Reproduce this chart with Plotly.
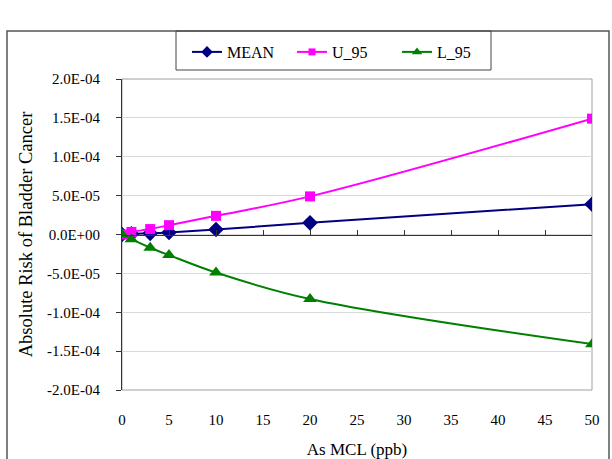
import plotly.graph_objects as go

x_mcl = [0, 1, 3, 5, 10, 20, 50]
mean_vals = [0, 0.8e-6, 1.5e-6, 2.6e-6, 6.5e-6, 1.5e-5, 3.9e-5]
u95_vals = [0, 3.3e-6, 7.0e-6, 1.2e-5, 2.4e-5, 4.9e-5, 1.49e-4]
l95_vals = [0, -6.0e-6, -1.7e-5, -2.65e-5, -4.9e-5, -8.3e-5, -1.41e-4]
y_ticks = [-2e-4, -1.5e-4, -1e-4, -5e-5, 0, 5e-5, 1e-4, 1.5e-4, 2e-4]
x_ticks = [0, 5, 10, 15, 20, 25, 30, 35, 40, 45, 50]

series = [
    ("MEAN", mean_vals, "#000080", "diamond", 12, 9),
    ("U_95", u95_vals, "#FF00FF", "square", 10, 7),
    ("L_95", l95_vals, "#008000", "triangle-up", 12, 9),
]

FONT = "Liberation Serif"

# pixel -> paper helpers (plot area: x 122..592, y 79..390)
def px(v):
    return (v - 122) / 470.0

def py(v):
    return (390 - v) / 311.0

fig = go.Figure()
for name, vals, color, sym, msize, lsize in series:
    fig.add_trace(go.Scatter(x=x_mcl, y=vals, name=name, mode="lines+markers",
                             legendgroup=name, showlegend=False,
                             line=dict(color=color, width=2, shape="spline"),
                             marker=dict(symbol=sym, size=msize, color=color)))
for name, vals, color, sym, msize, lsize in series:
    # legend entry with smaller symbol, as in the original legend
    fig.add_trace(go.Scatter(x=[None], y=[None], name=name, mode="lines+markers",
                             legendgroup=name, showlegend=True,
                             line=dict(color=color, width=2),
                             marker=dict(symbol=sym, size=lsize, color=color)))
# invisible trace to activate the zero-line axis
fig.add_trace(go.Scatter(x=[0, 50], y=[0, 0], xaxis="x2", mode="lines",
                         line=dict(width=0), showlegend=False, hoverinfo="skip"))

fig.update_layout(
    template="none",
    width=612, height=459,
    margin=dict(l=122, r=20, t=79, b=69, autoexpand=False),
    paper_bgcolor="white", plot_bgcolor="white",
    font=dict(family=FONT, size=15, color="black"),
    showlegend=True,
    legend=dict(orientation="h", x=px(187), xanchor="left", y=py(35), yanchor="top",
                borderwidth=0, bgcolor="rgba(0,0,0,0)", itemsizing="trace",
                entrywidth=60, entrywidthmode="pixels",
                font=dict(family=FONT, size=16)),
    xaxis=dict(range=[0, 50], tickvals=x_ticks, ticktext=[str(v) for v in x_ticks],
               showgrid=False, zeroline=False, showline=False, ticks="",
               ticklabelstandoff=19, automargin=False,
               title=dict(text="As MCL (ppb)", font=dict(family=FONT, size=17), standoff=25)),
    xaxis2=dict(range=[0, 50], overlaying="x", anchor="free", position=0.5, side="bottom",
                tickvals=x_ticks, showticklabels=False, ticks="inside", ticklen=5,
                tickcolor="#333", showline=True, linecolor="#333", linewidth=1,
                showgrid=False, zeroline=False, automargin=False),
    yaxis=dict(range=[-2e-4, 2e-4], tickvals=y_ticks, ticktext=[f"{v:.1E}" for v in y_ticks],
               showgrid=True, gridcolor="#d9d9d9", gridwidth=1, zeroline=False,
               showline=True, linecolor="#333", linewidth=1, ticks="outside", ticklen=5,
               tickcolor="#333", ticklabelstandoff=13, automargin=False,
               title=dict(text="Absolute Risk of Bladder Cancer", font=dict(family=FONT, size=18.5),
                          standoff=9)),
    shapes=[
        dict(type="rect", xref="paper", yref="paper", x0=0, x1=1, y0=0, y1=1,
             line=dict(color="#a0a0a0", width=1), layer="below"),
        dict(type="rect", xref="paper", yref="paper", x0=px(7), x1=px(609), y0=py(470), y1=py(31),
             line=dict(color="#555", width=1.5), layer="below"),
        dict(type="rect", xref="paper", yref="paper", x0=px(176), x1=px(491), y0=py(70), y1=py(31),
             line=dict(color="#444", width=1), layer="below"),
    ],
)

fig.write_html("out.html")
